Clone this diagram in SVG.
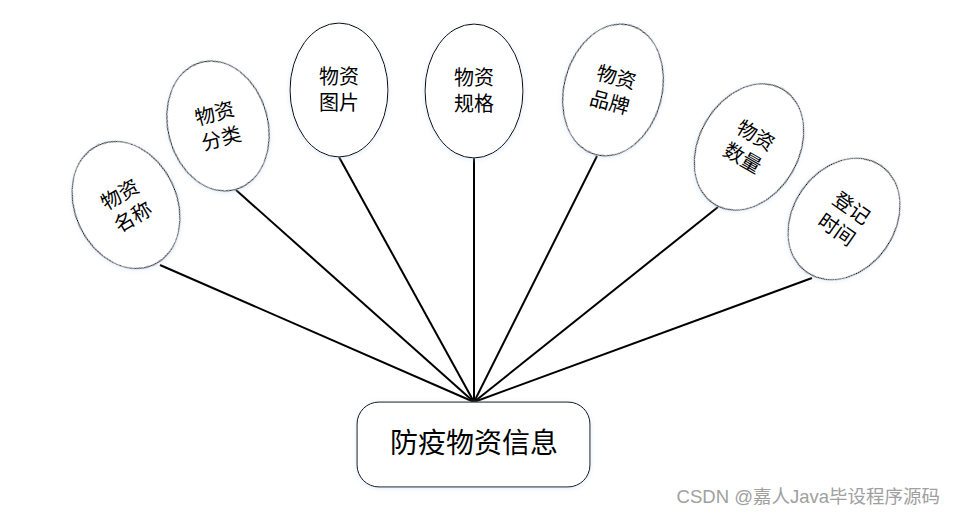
<svg xmlns="http://www.w3.org/2000/svg" width="956" height="516" viewBox="0 0 956 516">
<defs>
<filter id="sh" x="-20%" y="-20%" width="140%" height="140%">
<feDropShadow dx="0" dy="1" stdDeviation="2.5" flood-color="#b8d0f2" flood-opacity="0.45"/>
</filter>
<style>
.el{fill:#fff;stroke:#000;stroke-width:1;filter:url(#sh)}
.t{font-family:"Liberation Serif","Noto Sans CJK SC",serif;font-size:20px;fill:#000;text-anchor:middle}
.c{stroke:#000;stroke-width:2;fill:none}
</style>
</defs>
<rect width="956" height="516" fill="#fff"/>
<g id="connectors">
<line class="c" x1="160" y1="265" x2="474" y2="402"/>
<line class="c" x1="236" y1="190" x2="474" y2="402"/>
<line class="c" x1="339" y1="157" x2="474" y2="402"/>
<line class="c" x1="474" y1="158" x2="474" y2="402"/>
<line class="c" x1="597" y1="156" x2="474" y2="402"/>
<line class="c" x1="718" y1="207" x2="474" y2="402"/>
<line class="c" x1="812" y1="278" x2="474" y2="402"/>
</g>
<g id="n1" transform="translate(126,205) rotate(-25)">
<ellipse class="el" rx="51" ry="66"/>
<text class="t" y="-5" transform="rotate(-5)">物资</text><text class="t" y="21" transform="rotate(-5)">名称</text>
</g>
<g id="n2" transform="translate(218,126) rotate(-15)">
<ellipse class="el" rx="50" ry="66"/>
<text class="t" y="-6">物资</text><text class="t" y="20">分类</text>
</g>
<g id="n3" transform="translate(339,90)">
<ellipse class="el" rx="49" ry="67"/>
<text class="t" y="-6">物资</text><text class="t" y="20">图片</text>
</g>
<g id="n4" transform="translate(474,91)">
<ellipse class="el" rx="49" ry="67"/>
<text class="t" y="-6">物资</text><text class="t" y="20">规格</text>
</g>
<g id="n5" transform="translate(613,90) rotate(15)">
<ellipse class="el" rx="49" ry="67"/>
<text class="t" y="-6">物资</text><text class="t" y="20">品牌</text>
</g>
<g id="n6" transform="translate(749,147) rotate(30)">
<ellipse class="el" rx="50" ry="67"/>
<text class="t" y="-6">物资</text><text class="t" y="20">数量</text>
</g>
<g id="n7" transform="translate(844,219) rotate(35)">
<ellipse class="el" rx="51" ry="65"/>
<text class="t" y="-6">登记</text><text class="t" y="20">时间</text>
</g>
<g id="main">
<rect class="el" x="357" y="402" width="233" height="85" rx="22" ry="22"/>
<text x="474" y="453" font-family="Liberation Serif,Noto Sans CJK SC,serif" font-size="28" text-anchor="middle">防疫物资信息</text>
</g>
<text x="940" y="503" font-family="Liberation Sans,Noto Sans CJK SC,sans-serif" font-size="18.5" fill="#a0a0a0" text-anchor="end">CSDN @嘉人Java毕设程序源码</text>
</svg>
